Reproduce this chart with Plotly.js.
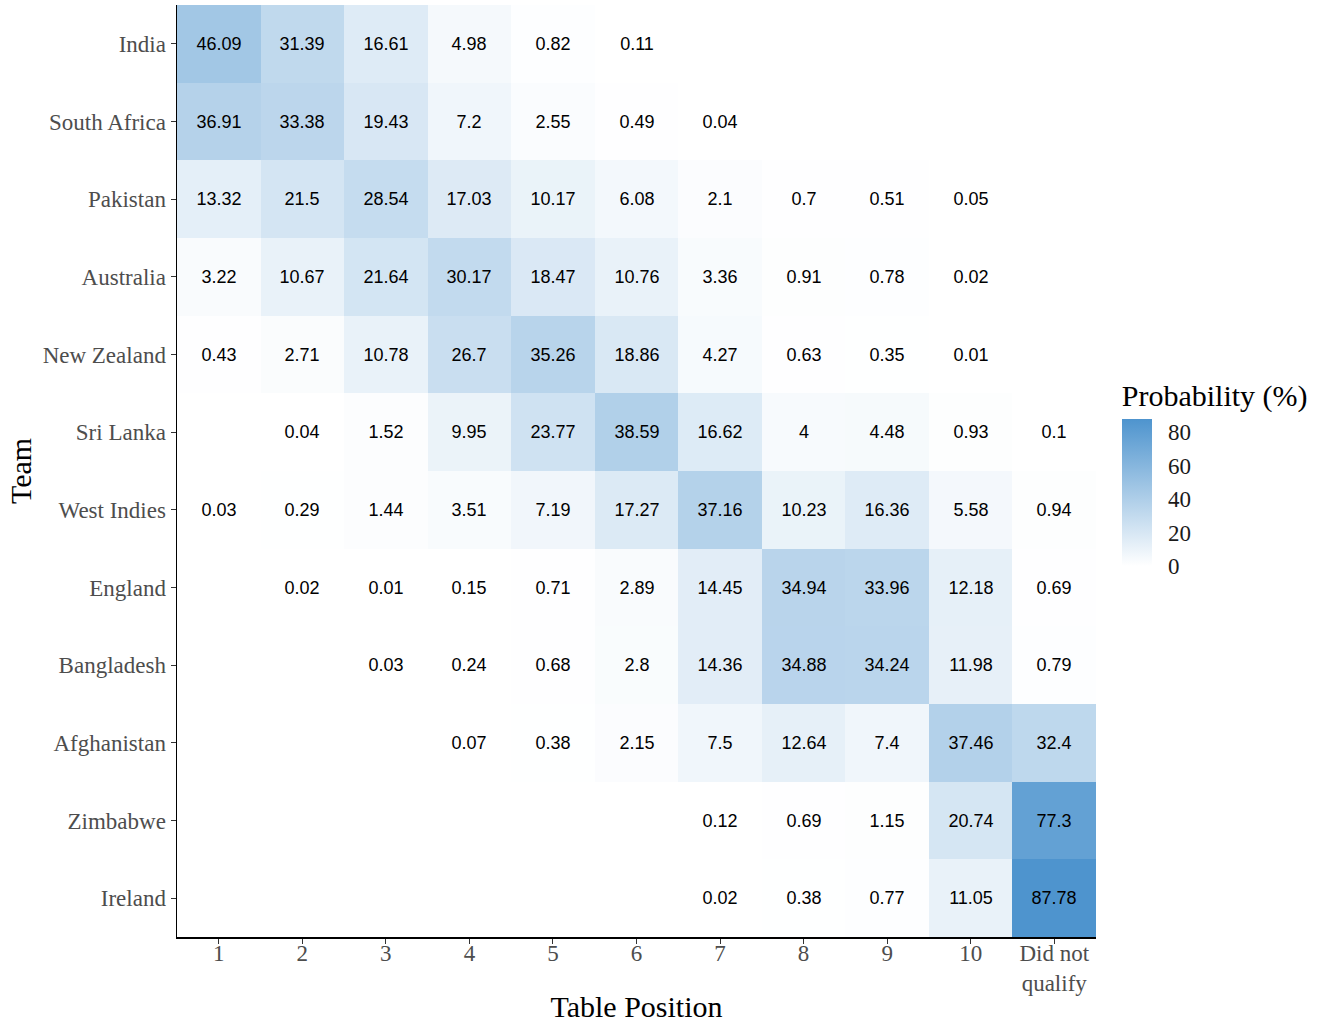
<!DOCTYPE html>
<html>
<head>
<meta charset="utf-8">
<script src="https://cdn.plot.ly/plotly-3.0.1.min.js"></script>
<style>html,body{margin:0;padding:0;background:#fff;}#chart{width:1320px;height:1023px;}</style>
</head>
<body>
<div id="chart"></div>
<script>
const positions = ['1','2','3','4','5','6','7','8','9','10','Did not<br>qualify'];
const teams = ['India','South Africa','Pakistan','Australia','New Zealand','Sri Lanka','West Indies','England','Bangladesh','Afghanistan','Zimbabwe','Ireland'];

const india       = [46.09, 31.39, 16.61, 4.98, 0.82, 0.11, null, null, null, null, null];
const southAfrica = [36.91, 33.38, 19.43, 7.2, 2.55, 0.49, 0.04, null, null, null, null];
const pakistan    = [13.32, 21.5, 28.54, 17.03, 10.17, 6.08, 2.1, 0.7, 0.51, 0.05, null];
const australia   = [3.22, 10.67, 21.64, 30.17, 18.47, 10.76, 3.36, 0.91, 0.78, 0.02, null];
const newZealand  = [0.43, 2.71, 10.78, 26.7, 35.26, 18.86, 4.27, 0.63, 0.35, 0.01, null];
const sriLanka    = [null, 0.04, 1.52, 9.95, 23.77, 38.59, 16.62, 4, 4.48, 0.93, 0.1];
const westIndies  = [0.03, 0.29, 1.44, 3.51, 7.19, 17.27, 37.16, 10.23, 16.36, 5.58, 0.94];
const england     = [null, 0.02, 0.01, 0.15, 0.71, 2.89, 14.45, 34.94, 33.96, 12.18, 0.69];
const bangladesh  = [null, null, 0.03, 0.24, 0.68, 2.8, 14.36, 34.88, 34.24, 11.98, 0.79];
const afghanistan = [null, null, null, 0.07, 0.38, 2.15, 7.5, 12.64, 7.4, 37.46, 32.4];
const zimbabwe    = [null, null, null, null, null, null, 0.12, 0.69, 1.15, 20.74, 77.3];
const ireland     = [null, null, null, null, null, null, 0.02, 0.38, 0.77, 11.05, 87.78];

const colorbarTicks = [0, 20, 40, 60, 80];

const z = [india, southAfrica, pakistan, australia, newZealand, sriLanka, westIndies, england, bangladesh, afghanistan, zimbabwe, ireland];
const text = z.map(r => r.map(v => v === null ? '' : String(v)));
const zmax = Math.max(...z.flat().filter(v => v !== null));

const serif = 'Liberation Serif, Times New Roman, serif';

const trace = {
  type: 'heatmap',
  x: positions,
  y: teams,
  z: z,
  text: text,
  texttemplate: '%{text}',
  textfont: {family: 'Liberation Sans, Arial, sans-serif', size: 18, color: '#000'},
  hoverongaps: false,
  zmin: 0,
  zmax: zmax,
  colorscale: [[0, '#FFFFFF'], [1, 'rgb(78,148,206)']],
  xgap: 0, ygap: 0,
  colorbar: {
    title: {text: 'Probability (%)', side: 'top', font: {family: serif, size: 30, color: '#000'}},
    thickness: 30,
    thicknessmode: 'pixels',
    len: 186,
    lenmode: 'pixels',
    x: 1.028,
    xanchor: 'left',
    xpad: 0,
    y: 0.398,
    yanchor: 'bottom',
    ypad: 0,
    outlinewidth: 0,
    tickvals: colorbarTicks,
    ticks: 'outside',
    ticklen: 12,
    tickcolor: '#ffffff',
    tickwidth: 1,
    tickfont: {family: serif, size: 23, color: '#1a1a1a'}
  }
};

const layout = {
  width: 1320,
  height: 1023,
  margin: {l: 177, r: 224, t: 5, b: 86},
  paper_bgcolor: '#fff',
  plot_bgcolor: '#fff',
  font: {family: serif},
  xaxis: {
    type: 'category',
    title: {text: 'Table Position', font: {size: 30, color: '#000'}, standoff: 8},
    tickfont: {size: 23, color: '#4d4d4d'},
    showline: true, linecolor: '#000', linewidth: 1.5,
    ticks: 'outside', ticklen: 5, tickcolor: '#333', tickwidth: 1,
    ticklabelstandoff: -10,
    showgrid: false, zeroline: false,
    fixedrange: true
  },
  yaxis: {
    type: 'category',
    autorange: 'reversed',
    title: {text: 'Team', font: {size: 30, color: '#000'}, standoff: 2},
    tickfont: {size: 23, color: '#4d4d4d'},
    showline: true, linecolor: '#000', linewidth: 1.5,
    ticks: 'outside', ticklen: 5, tickcolor: '#333', tickwidth: 1,
    showgrid: false, zeroline: false,
    fixedrange: true
  }
};

Plotly.newPlot('chart', [trace], layout, {displayModeBar: false, staticPlot: true});
</script>
</body>
</html>
